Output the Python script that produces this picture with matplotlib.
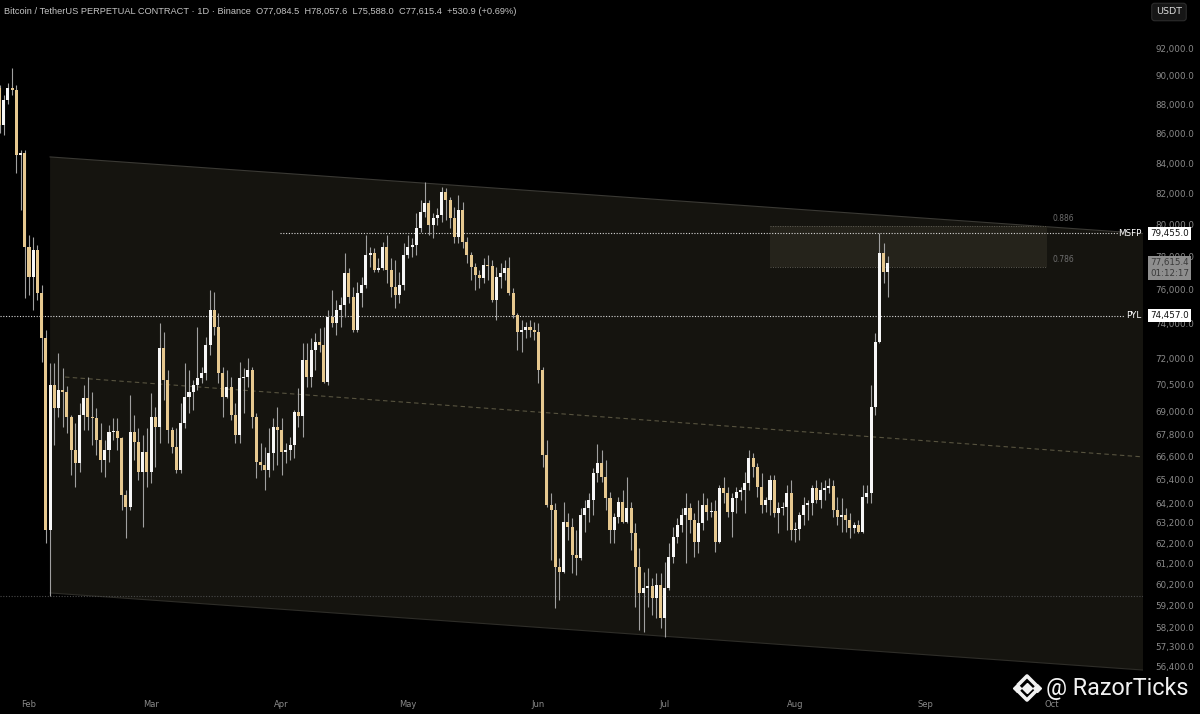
import matplotlib
matplotlib.use('Agg')
import matplotlib.pyplot as plt
import matplotlib.dates as mdates
import matplotlib.transforms as mtransforms
from matplotlib.lines import Line2D
from matplotlib.ticker import FixedLocator, FixedFormatter, NullLocator
import numpy as np
import pandas as pd

# daily BTCUSDT perp candles, 2024-01-25 .. 2024-08-23
first_day = '2024-01-25'
opens = [
    89140, 86570, 88300, 89140, 89000, 84540, 84700, 78610, 76770, 78420,
    75800, 73150, 62850, 70480, 69210, 70210, 70090, 68720, 66950, 66270,
    68830, 69760, 68720, 68670, 67480, 66430, 66950, 67910, 67970, 67590,
    64610, 64000, 67910, 67380, 65800, 66850, 65800, 68720, 68180, 72580,
    70760, 68020, 67110, 65900, 68400, 69820, 70090, 70480, 70870, 71150,
    72750, 74790, 73790, 71150, 69820, 70370, 68830, 67750, 70870, 70930,
    71320, 68720, 66320, 66160, 65900, 66790, 68180, 68020, 66850, 66950,
    67220, 68990, 68780, 71890, 70930, 72460, 72920, 72750, 70650, 74380,
    74030, 74790, 75090, 77010, 75560, 73620, 75800, 76280, 78110, 78240,
    77190, 77310, 78610, 77190, 76160, 75680, 76280, 78110, 78610, 78730,
    79800, 80810, 81390, 79990, 80430, 80620, 82100, 81580, 80430, 79230,
    80940, 78920, 78110, 77380, 76890, 76710, 77500, 77440, 75380, 76770,
    77010, 77310, 75800, 74490, 73500, 73620, 73790, 73620, 73500, 71320,
    66690, 64100, 63850, 61040, 60800, 63250, 63000, 61620, 61470, 63600,
    63950, 64360, 65750, 66270, 65540, 64460, 62850, 63500, 64260, 63250,
    63950, 62700, 61040, 59800, 60030, 60130, 59560, 60180, 58630, 60030,
    61520, 62500, 63100, 63600, 63950, 63350, 62260, 63200, 64100, 63750,
    63800, 62260, 64970, 64720, 63750, 64460, 64770, 64870, 65230, 66530,
    66060, 65020, 64100, 64360, 65380, 63700, 63950, 64000, 64720, 62850,
    62900, 63600, 64100, 64210, 64970, 64360, 64870, 64970, 65070, 63850,
    63500, 63600, 63350, 62950, 63100, 62750, 64510, 64720, 69270, 72920,
    78240, 77084.5,
]
highs = [
    89350, 88650, 89490, 90560, 89350, 84870, 84870, 79360, 79230, 78730,
    76280, 73620, 71720, 71720, 72290, 71440, 70430, 68830, 68400, 69490,
    70480, 70930, 70090, 69210, 68400, 67480, 68290, 68670, 68670, 67650,
    64870, 69930, 68830, 68130, 67750, 68130, 70040, 69270, 74030, 73500,
    71320, 68180, 68130, 69490, 71720, 71320, 70760, 73790, 71490, 73210,
    75980, 75860, 74610, 71490, 71320, 70930, 69490, 71780, 71440, 72000,
    71490, 68940, 67330, 67110, 68130, 68670, 69270, 68670, 67330, 67650,
    69100, 70320, 72860, 72860, 73150, 73440, 73730, 73790, 74790, 75980,
    75380, 75560, 78240, 77310, 76160, 76460, 76770, 79360, 78610, 78550,
    77930, 78920, 79360, 77930, 77800, 77070, 78860, 79360, 79170, 80750,
    81580, 82750, 81580, 80750, 81070, 82430, 82360, 81780, 81130, 81910,
    81450, 79230, 78300, 77620, 77190, 77930, 78110, 77800, 77380, 77620,
    77800, 77990, 76100, 74610, 74200, 74080, 74200, 74080, 74030, 71490,
    67480, 64720, 64210, 61470, 64260, 63700, 63450, 62850, 63950, 64360,
    64720, 66010, 67270, 66950, 66430, 64770, 63700, 64510, 64870, 65540,
    64260, 63200, 61960, 60800, 60990, 60510, 60750, 60750, 61280, 62210,
    63000, 63450, 63950, 64720, 64210, 63700, 64360, 64720, 64460, 64260,
    64360, 65130, 65540, 65020, 64720, 65020, 65020, 65800, 66950, 66790,
    66270, 65750, 64510, 65640, 65640, 64260, 64260, 65130, 65380, 63250,
    63750, 64510, 64360, 65130, 65380, 65280, 65380, 65490, 65380, 64510,
    64460, 63950, 63700, 63250, 63350, 65130, 65130, 70480, 73440, 79455,
    78860, 78057.6,
]
lows = [
    86020, 85890, 88020, 88650, 83340, 80940, 75500, 75680, 74790, 75380,
    71780, 62210, 59660, 67220, 68720, 68180, 67860, 65640, 65020, 65800,
    68020, 68020, 67220, 66690, 65800, 65540, 66320, 67480, 66950, 63850,
    62450, 63850, 66430, 65380, 63000, 65020, 65230, 66060, 67330, 69650,
    67330, 66790, 65750, 65750, 68130, 68940, 69100, 70210, 70600, 70760,
    72180, 73330, 70600, 68720, 69760, 68560, 67330, 67330, 68940, 70370,
    68130, 65490, 65900, 64870, 65540, 65900, 66160, 65640, 66270, 66430,
    66530, 68180, 67650, 70370, 70370, 71320, 72350, 70600, 70480, 73790,
    73330, 73790, 74380, 75200, 73500, 73500, 74970, 76100, 77380, 77070,
    77070, 77190, 76400, 75560, 74910, 75200, 75980, 77930, 77990, 78110,
    79550, 80500, 79360, 79170, 79990, 80180, 80300, 79800, 78860, 78860,
    78550, 77620, 76580, 75980, 76100, 76400, 76580, 75260, 74200, 76100,
    76580, 75680, 74320, 72460, 72350, 73150, 73210, 73040, 70600, 66060,
    64000, 61380, 59090, 59470, 60750, 62350, 60750, 60650, 61380, 62750,
    63250, 63600, 65280, 65280, 63850, 62210, 62210, 63200, 63200, 63200,
    61860, 59140, 58070, 57980, 59140, 58770, 58630, 58160, 57750, 59940,
    61230, 62210, 62750, 61230, 62700, 61520, 61720, 62850, 63350, 63500,
    61770, 62210, 64210, 63500, 62500, 63700, 64360, 63700, 64870, 65540,
    64510, 63700, 63750, 63600, 63500, 62700, 63600, 62850, 62350, 62260,
    62350, 63100, 63350, 63600, 64210, 63950, 64360, 64720, 63500, 63100,
    62750, 62750, 62450, 62700, 62700, 62700, 64210, 64210, 68830, 72860,
    76400, 75588.0,
]
closes = [
    86570, 88300, 89140, 89000, 84540, 84700, 78610, 76770, 78420, 75800,
    73150, 62850, 70480, 69210, 70210, 70090, 68720, 66950, 66270, 68830,
    69760, 68720, 68670, 67480, 66430, 66950, 67910, 67970, 67590, 64610,
    64000, 67910, 67380, 65800, 66850, 65800, 68720, 68180, 72580, 70760,
    68020, 67110, 65900, 68400, 69820, 70090, 70480, 70870, 71150, 72750,
    74790, 73790, 71150, 69820, 70370, 68830, 67750, 70870, 70930, 71320,
    68720, 66320, 66160, 65900, 66790, 68180, 68020, 66850, 66950, 67220,
    68990, 68780, 71890, 70930, 72460, 72920, 72750, 70650, 74380, 74030,
    74790, 75090, 77010, 75560, 73620, 75800, 76280, 78110, 78240, 77190,
    77310, 78610, 77190, 76160, 75680, 76280, 78110, 78610, 78730, 79800,
    80810, 81390, 79990, 80430, 80620, 82100, 81580, 80430, 79230, 80940,
    78920, 78110, 77380, 76890, 76710, 77500, 77440, 75380, 76770, 77010,
    77310, 75800, 74490, 73500, 73620, 73790, 73620, 73500, 71320, 66690,
    64100, 63850, 61040, 60800, 63250, 63000, 61620, 61470, 63600, 63950,
    64360, 65750, 66270, 65540, 64460, 62850, 63500, 64260, 63250, 63950,
    62700, 61040, 59800, 60030, 60130, 59560, 60180, 58630, 60030, 61520,
    62500, 63100, 63600, 63950, 63350, 62260, 63200, 64100, 63750, 63800,
    62260, 64970, 64720, 63750, 64460, 64770, 64870, 65230, 66530, 66060,
    65020, 64100, 64360, 65380, 63700, 63950, 64000, 64720, 62850, 62900,
    63600, 64100, 64210, 64970, 64360, 64870, 64970, 65070, 63850, 63500,
    63600, 63350, 62950, 63100, 62750, 64510, 64720, 69270, 72920, 78240,
    77084.5, 77615.4,
]

# levels / drawings
msfp = 79455.0
pyl = 74457.0
swing_low = 59660
fib_886 = 79920
fib_786 = 77370
channel_top = (84410, 79455)
channel_bottom = (59800, 56265)
channel_mid = (70930, 66590)
y_ticks = [92000, 90000, 88000, 86000, 84000, 82000, 80000, 78000, 76000, 74000,
           72000, 70500, 69000, 67800, 66600, 65400, 64200, 63200, 62200, 61200,
           60200, 59200, 58200, 57300, 56400]

BG = '#000000'
CH_FILL = '#15140f'
UP = '#f7f7f7'
DOWN = '#e6c88f'
WICK = '#a0a0a0'

fig = plt.figure(figsize=(12, 7.14), dpi=100)
fig.patch.set_facecolor(BG)
ax = fig.add_axes([0, 22 / 714, 1143 / 1200, 692 / 714])
ax.set_facecolor(BG)
ax.set_yscale('log')

dates = pd.date_range(first_day, periods=len(closes), freq='D')
x = mdates.date2num(dates)
o = np.array(opens, float)
h = np.array(highs, float)
l = np.array(lows, float)
c = np.array(closes, float)

feb1 = mdates.date2num(pd.Timestamp('2024-02-01'))
x_left = feb1 - 6.89
x_right = feb1 + 264.6
ax.set_xlim(x_left, x_right)
ax.set_ylim(55296, 95559)

# channel
cx0 = feb1 + 5.0
ax.fill([cx0, x_right, x_right, cx0],
        [channel_top[0], channel_top[1], channel_bottom[1], channel_bottom[0]],
        color=CH_FILL, lw=0, zorder=0)
ax.plot([cx0, x_right], channel_top, color='#3a3934', lw=0.8, zorder=1)
ax.plot([cx0, x_right], channel_bottom, color='#2e2d28', lw=0.8, zorder=1)
ax.plot([feb1 + 8.55, x_right], channel_mid, color='#57533f', lw=0.8,
        dashes=(4, 3), zorder=1)

# fib box
fx0, fx1 = feb1 + 176.0, feb1 + 241.8
ax.fill([fx0, fx1, fx1, fx0], [fib_886, fib_886, fib_786, fib_786],
        color='#25231b', lw=0, zorder=1)
for lv in (fib_886, fib_786):
    ax.plot([fx0, fx1], [lv, lv], color='#5f5d55', lw=0.7, ls=(0, (1, 1.5)), zorder=1)
ax.text(fx1 + 1.2, fib_886 * 1.006, '0.886', color='#6e6e6e', fontsize=5.5,
        ha='left', va='center')
ax.text(fx1 + 1.2, fib_786 * 1.006, '0.786', color='#6e6e6e', fontsize=5.5,
        ha='left', va='center')

# horizontal levels
ax.plot([x_left, x_right], [swing_low, swing_low], color='#4a4a4a', lw=0.8,
        ls=(0, (1, 1.5)), zorder=1)
ax.plot([feb1 + 59.6, x_right - 5.6], [msfp, msfp], color='#d8d8d8', lw=0.8,
        ls=(0, (1, 1.5)), zorder=2)
ax.plot([x_left, x_right - 4.2], [pyl, pyl], color='#d8d8d8', lw=0.8,
        ls=(0, (1, 1.5)), zorder=2)
ax.text(x_right - 0.4, msfp, 'MSFP', color='white', fontsize=6.3, ha='right',
        va='center', zorder=6)
ax.text(x_right - 0.4, pyl, 'PYL', color='white', fontsize=6.3, ha='right',
        va='center', zorder=6)

# candles
up = c >= o
lo = np.minimum(o, c)
hi = np.maximum(np.maximum(o, c), lo * 1.0007)
ax.vlines(x, l, h, color=WICK, lw=0.8, zorder=3)
ax.bar(x[up], (hi - lo)[up], bottom=lo[up], width=0.72, color=UP, lw=0, zorder=4)
ax.bar(x[~up], (hi - lo)[~up], bottom=lo[~up], width=0.72, color=DOWN, lw=0, zorder=4)

# axes styling
for s in ax.spines.values():
    s.set_visible(False)
ax.yaxis.tick_right()
ax.yaxis.set_major_locator(FixedLocator(y_ticks))
ax.yaxis.set_major_formatter(FixedFormatter([f'{v:,.1f}' for v in y_ticks]))
ax.yaxis.set_minor_locator(NullLocator())
ax.tick_params(axis='y', length=0, pad=9, labelsize=6.3, labelcolor='#8a8a8a')
ax.xaxis.set_major_locator(mdates.MonthLocator())
ax.xaxis.set_major_formatter(mdates.DateFormatter('%b'))
ax.xaxis.set_minor_locator(NullLocator())
ax.tick_params(axis='x', length=0, pad=6, labelsize=6, labelcolor='#8a8a8a')

# price labels on the scale
tr = mtransforms.blended_transform_factory(fig.transFigure, ax.transData)
for val, txt in ((msfp, '79,455.0'), (pyl, '74,457.0')):
    fig.text(1150 / 1200, val, txt, transform=tr, fontsize=6.3, color='#111111',
             ha='left', va='center', zorder=10,
             bbox=dict(boxstyle='square,pad=0.25', fc='white', ec='none'))
fig.text(1150 / 1200, 77310, '77,615.4\n01:12:17', transform=tr, fontsize=6.3,
         color='#3a3a3a', ha='left', va='center', linespacing=1.25, zorder=10,
         bbox=dict(boxstyle='square,pad=0.25', fc='#8e8e8e', ec='none'))

# top bar
fig.text(4 / 1200, 1 - 11 / 714,
         'Bitcoin / TetherUS PERPETUAL CONTRACT · 1D · Binance  O77,084.5  H78,057.6  '
         'L75,588.0  C77,615.4  +530.9 (+0.69%)',
         color='#c4c4c4', fontsize=6.65, family='Liberation Sans', ha='left', va='center')
fig.text(1169 / 1200, 1 - 12 / 714, 'USDT', color='#d8d8d8', fontsize=6.8,
         ha='center', va='center',
         bbox=dict(boxstyle='round,pad=0.45,rounding_size=0.3', fc='#161616', ec='#2c2c2c', lw=0.8))

# watermark
fig.text(1046 / 1200, (714 - 689) / 714, '@ RazorTicks', color='#f2f2f2',
         fontsize=16.8, family='Roboto', ha='left', va='center')
def px(xp, yp):
    return xp / 1200, (714 - yp) / 714
lx, ly = 1027, 688
for dx, dy, ms in ((0, 0, 5), (-10, 0, 4), (10, 0, 4)):
    fx, fy = px(lx + dx, ly + dy)
    fig.add_artist(Line2D([fx], [fy], marker='D', ms=ms, color='#f2f2f2', lw=0,
                          transform=fig.transFigure))
for sgn in (-1, 1):
    xs = [px(lx - 8, ly + sgn * 4)[0], px(lx, ly + sgn * 12)[0], px(lx + 8, ly + sgn * 4)[0]]
    ys = [px(lx - 8, ly + sgn * 4)[1], px(lx, ly + sgn * 12)[1], px(lx + 8, ly + sgn * 4)[1]]
    fig.add_artist(Line2D(xs, ys, color='#f2f2f2', lw=2.6, transform=fig.transFigure))

fig.savefig('out.png', dpi=100, facecolor=BG)
